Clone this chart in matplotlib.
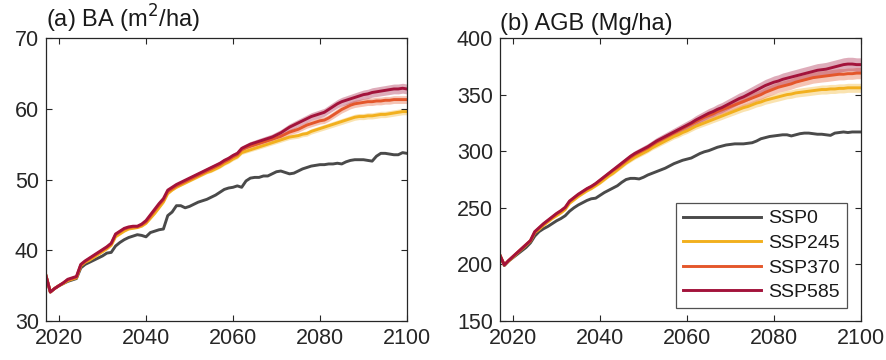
import numpy as np
import matplotlib
matplotlib.use('Agg')
import matplotlib.pyplot as plt

plt.rcParams['font.family'] = ['Liberation Sans', 'DejaVu Sans']

years = np.arange(2017, 2101)
scenarios = ['SSP0', 'SSP245', 'SSP370', 'SSP585']
colors = ['#4a4a4a', '#f2b01e', '#e4572b', '#a3133b']

# basal area (m2/ha), one value per year 2017-2100
ba_ssp0 = [36.4, 34.1, 34.6, 35.0, 35.3, 35.6, 35.8, 36.0, 37.5, 38.0,
           38.3, 38.6, 38.9, 39.2, 39.6, 39.7, 40.6, 41.1, 41.5, 41.8,
           42.0, 42.2, 42.1, 41.9, 42.5, 42.7, 42.9, 43.0, 44.9, 45.4,
           46.3, 46.3, 46.0, 46.2, 46.5, 46.8, 47.0, 47.2, 47.5, 47.8,
           48.2, 48.6, 48.8, 48.9, 49.1, 48.9, 49.8, 50.2, 50.3, 50.3,
           50.5, 50.5, 50.8, 51.1, 51.2, 51.0, 50.8, 50.9, 51.2, 51.5,
           51.7, 51.9, 52.0, 52.1, 52.1, 52.2, 52.2, 52.3, 52.2, 52.5,
           52.7, 52.8, 52.8, 52.8, 52.7, 52.6, 53.3, 53.7, 53.7, 53.6,
           53.5, 53.5, 53.8, 53.7]
ba_ssp245 = [36.4, 34.1, 34.6, 35.0, 35.3, 35.7, 35.9, 36.1, 37.8, 38.3,
             38.6, 39.0, 39.4, 39.8, 40.2, 40.7, 41.9, 42.3, 42.7, 43.0,
             43.1, 43.2, 43.4, 43.8, 44.5, 45.2, 46.0, 46.8, 48.0, 48.5,
             48.9, 49.2, 49.5, 49.8, 50.1, 50.4, 50.7, 51.0, 51.2, 51.5,
             51.8, 52.2, 52.5, 52.9, 53.2, 53.8, 54.0, 54.2, 54.4, 54.6,
             54.8, 55.0, 55.2, 55.4, 55.6, 55.8, 56.0, 56.1, 56.2, 56.4,
             56.5, 56.8, 57.0, 57.2, 57.4, 57.6, 57.8, 58.0, 58.2, 58.4,
             58.6, 58.8, 58.9, 58.9, 59.0, 59.0, 59.1, 59.2, 59.2, 59.3,
             59.4, 59.5, 59.6, 59.6]
ba_ssp370 = [36.4, 34.1, 34.6, 35.0, 35.4, 35.8, 36.0, 36.2, 37.9, 38.4,
             38.8, 39.2, 39.6, 40.0, 40.4, 40.9, 42.2, 42.6, 43.0, 43.2,
             43.3, 43.3, 43.6, 44.0, 44.8, 45.6, 46.4, 47.1, 48.3, 48.7,
             49.1, 49.4, 49.7, 50.0, 50.3, 50.6, 50.9, 51.2, 51.5, 51.8,
             52.1, 52.5, 52.8, 53.2, 53.5, 54.2, 54.5, 54.7, 54.9, 55.1,
             55.3, 55.5, 55.7, 55.9, 56.1, 56.4, 56.7, 56.9, 57.1, 57.4,
             57.7, 57.9, 58.1, 58.3, 58.4, 58.7, 59.1, 59.5, 59.9, 60.2,
             60.5, 60.7, 60.8, 60.9, 61.0, 61.0, 61.1, 61.1, 61.2, 61.2,
             61.3, 61.3, 61.3, 61.3]
ba_ssp585 = [36.4, 34.1, 34.6, 35.0, 35.4, 35.9, 36.1, 36.3, 38.0, 38.5,
             38.9, 39.3, 39.7, 40.1, 40.5, 41.0, 42.3, 42.7, 43.1, 43.3,
             43.4, 43.4, 43.7, 44.2, 45.0, 45.8, 46.6, 47.3, 48.5, 48.9,
             49.3, 49.6, 49.9, 50.2, 50.5, 50.8, 51.1, 51.4, 51.7, 52.0,
             52.3, 52.7, 53.0, 53.4, 53.7, 54.4, 54.7, 55.0, 55.2, 55.4,
             55.6, 55.8, 56.0, 56.3, 56.6, 57.0, 57.4, 57.7, 58.0, 58.3,
             58.6, 58.9, 59.1, 59.3, 59.5, 59.9, 60.3, 60.7, 61.0, 61.2,
             61.4, 61.6, 61.8, 62.0, 62.1, 62.3, 62.4, 62.5, 62.6, 62.7,
             62.8, 62.8, 62.9, 62.8]

# half width of the shaded range
ba_sd245 = [0, 0, 0.04, 0.04, 0.04, 0.04, 0.05, 0.06, 0.06, 0.06,
            0.07, 0.07, 0.08, 0.08, 0.08, 0.08, 0.09, 0.09, 0.1, 0.1,
            0.1, 0.1, 0.11, 0.11, 0.12, 0.12, 0.13, 0.13, 0.14, 0.14,
            0.15, 0.15, 0.16, 0.16, 0.17, 0.17, 0.18, 0.19, 0.2, 0.2,
            0.21, 0.22, 0.23, 0.24, 0.25, 0.25, 0.26, 0.27, 0.28, 0.29,
            0.3, 0.3, 0.31, 0.32, 0.33, 0.33, 0.34, 0.35, 0.36, 0.36,
            0.37, 0.38, 0.38, 0.39, 0.4, 0.4, 0.41, 0.41, 0.42, 0.42,
            0.43, 0.43, 0.43, 0.44, 0.44, 0.44, 0.45, 0.45, 0.45, 0.45,
            0.45, 0.45, 0.45, 0.45]
ba_sd370 = [0, 0, 0.05, 0.05, 0.05, 0.05, 0.05, 0.08, 0.08, 0.08,
            0.08, 0.08, 0.1, 0.1, 0.1, 0.1, 0.1, 0.1, 0.12, 0.12,
            0.12, 0.12, 0.13, 0.13, 0.14, 0.14, 0.15, 0.15, 0.16, 0.16,
            0.17, 0.17, 0.18, 0.19, 0.2, 0.2, 0.21, 0.22, 0.23, 0.24,
            0.25, 0.26, 0.27, 0.28, 0.29, 0.3, 0.3, 0.31, 0.32, 0.33,
            0.34, 0.35, 0.36, 0.37, 0.38, 0.39, 0.4, 0.41, 0.42, 0.43,
            0.44, 0.45, 0.46, 0.47, 0.48, 0.48, 0.49, 0.5, 0.5, 0.51,
            0.51, 0.52, 0.52, 0.53, 0.53, 0.54, 0.54, 0.55, 0.55, 0.55,
            0.55, 0.55, 0.55, 0.55]
ba_sd585 = [0, 0, 0.05, 0.05, 0.05, 0.05, 0.05, 0.1, 0.1, 0.1,
            0.1, 0.1, 0.1, 0.1, 0.12, 0.12, 0.12, 0.12, 0.14, 0.14,
            0.14, 0.15, 0.15, 0.16, 0.16, 0.17, 0.18, 0.18, 0.19, 0.2,
            0.2, 0.21, 0.22, 0.23, 0.24, 0.25, 0.26, 0.27, 0.28, 0.29,
            0.3, 0.31, 0.32, 0.33, 0.34, 0.35, 0.36, 0.37, 0.38, 0.4,
            0.41, 0.42, 0.43, 0.45, 0.46, 0.47, 0.48, 0.5, 0.51, 0.52,
            0.53, 0.54, 0.55, 0.56, 0.57, 0.58, 0.59, 0.6, 0.61, 0.62,
            0.63, 0.64, 0.65, 0.65, 0.66, 0.67, 0.67, 0.68, 0.68, 0.69,
            0.69, 0.7, 0.7, 0.7]

# aboveground biomass (Mg/ha)
agb_ssp0 = [208, 199, 203, 206, 209, 212, 215, 219, 225, 229,
            231.5, 233.5, 236, 238.5, 240.5, 243, 247, 250, 252.5, 254.5,
            256.5, 258, 258.5, 261, 263.5, 265.5, 267.5, 269.5, 272.5, 275,
            276, 276, 275.5, 277, 279, 280.5, 282, 283.5, 285, 287,
            289, 290.5, 292, 293, 294, 296, 298, 299.5, 300.5, 302,
            303.5, 304.5, 305.5, 306, 306.5, 306.5, 306.5, 307, 307.5, 309,
            311, 312, 313, 313.5, 314, 314.5, 314.5, 313.5, 314.5, 315.5,
            316, 316, 315.5, 315, 315, 314.5, 314, 316, 316.5, 317,
            316.5, 317, 317, 317]
agb_ssp245 = [208, 199.5, 203, 206.5, 210, 213.5, 217, 220.5, 228, 231,
              234.5, 237.5, 240.5, 243, 245.5, 248.5, 254, 257, 260, 262.5,
              265, 267, 269.5, 272, 275, 278, 280.5, 283.5, 286.5, 289.5,
              292, 294.5, 296.5, 298.5, 300.5, 303, 305, 307, 309, 311,
              313, 314.5, 316.5, 318, 320, 322, 323.5, 325, 326.5, 328,
              329.5, 331, 332.5, 334, 335.5, 337, 338.5, 339.5, 341, 342.5,
              343.5, 345, 346, 347, 348, 349, 350, 350.5, 351.5, 352,
              352.5, 353, 353.5, 354, 354.5, 354.5, 355, 355, 355.5, 355.5,
              356, 356, 356, 356]
agb_ssp370 = [208, 199.5, 203.5, 207, 210.5, 214, 217.5, 221, 228.5, 232,
              235.5, 238.5, 241.5, 244.5, 247, 250, 255.5, 258.5, 261.5, 264,
              266.5, 268.5, 271, 274, 277, 280, 283, 285.5, 288.5, 291.5,
              294.5, 297, 299, 301, 303, 305.5, 308, 310, 312, 314,
              316, 318, 320, 322, 324, 326, 328, 330, 331.5, 333,
              335, 336.5, 338, 339.5, 341, 342.5, 344, 345.5, 347, 348.5,
              350, 352, 353.5, 355, 356.5, 357.5, 358.5, 359.5, 361, 362,
              363, 364, 365, 365.5, 366, 366.5, 367, 367.5, 368, 368,
              368.5, 368.5, 369, 369]
agb_ssp585 = [208, 199.5, 203.5, 207, 210.5, 214, 217.5, 221, 229, 232.5,
              236, 239, 242, 245, 247.5, 250.5, 256, 259, 262, 264.5,
              267, 269, 271.5, 274.5, 277.5, 280.5, 283.5, 286.5, 289.5, 292.5,
              295.5, 298, 300, 302, 304, 306.5, 309, 311, 313, 315,
              317, 319, 321, 323, 325, 327.5, 329.5, 331.5, 333.5, 335,
              337, 338.5, 340.5, 342.5, 344.5, 346.5, 348, 350, 352, 354,
              356, 358, 359.5, 361, 362, 363.5, 364.5, 365.5, 366.5, 367.5,
              368.5, 369.5, 370.5, 371.5, 372, 372.5, 373.5, 374.5, 375.5, 376.5,
              377, 377, 376.5, 376.5]

agb_sd245 = [0, 0, 0.2, 0.2, 0.3, 0.3, 0.4, 0.5, 0.5, 0.6,
             0.6, 0.7, 0.7, 0.8, 0.8, 0.9, 0.9, 1.0, 1.0, 1.0,
             1.1, 1.1, 1.2, 1.2, 1.3, 1.3, 1.4, 1.4, 1.5, 1.5,
             1.6, 1.7, 1.7, 1.8, 1.8, 1.9, 2.0, 2.0, 2.1, 2.2,
             2.2, 2.3, 2.4, 2.4, 2.5, 2.6, 2.6, 2.7, 2.8, 2.8,
             2.9, 3.0, 3.0, 3.1, 3.2, 3.2, 3.3, 3.3, 3.4, 3.4,
             3.5, 3.5, 3.6, 3.6, 3.7, 3.7, 3.7, 3.8, 3.8, 3.8,
             3.9, 3.9, 3.9, 3.9, 4.0, 4.0, 4.0, 4.0, 4.0, 4.0,
             4.0, 4.0, 4.0, 4.0]
agb_sd370 = [0, 0, 0.3, 0.3, 0.3, 0.4, 0.5, 0.6, 0.7, 0.7,
             0.8, 0.8, 0.9, 1.0, 1.0, 1.1, 1.1, 1.2, 1.2, 1.3,
             1.3, 1.4, 1.5, 1.5, 1.6, 1.7, 1.7, 1.8, 1.8, 1.9,
             2.0, 2.1, 2.2, 2.2, 2.3, 2.4, 2.5, 2.6, 2.7, 2.7,
             2.8, 2.9, 3.0, 3.1, 3.2, 3.2, 3.3, 3.4, 3.5, 3.6,
             3.7, 3.7, 3.8, 3.9, 4.0, 4.1, 4.2, 4.2, 4.3, 4.4,
             4.4, 4.5, 4.5, 4.6, 4.6, 4.7, 4.7, 4.7, 4.8, 4.8,
             4.8, 4.9, 4.9, 4.9, 4.9, 5.0, 5.0, 5.0, 5.0, 5.0,
             5.0, 5.0, 5.0, 5.0]
agb_sd585 = [0, 0, 0.3, 0.3, 0.4, 0.5, 0.6, 0.7, 0.8, 0.9,
             1.0, 1.0, 1.1, 1.2, 1.2, 1.3, 1.4, 1.4, 1.5, 1.6,
             1.6, 1.7, 1.8, 1.8, 1.9, 2.0, 2.1, 2.1, 2.2, 2.3,
             2.4, 2.5, 2.6, 2.7, 2.8, 2.9, 3.0, 3.1, 3.2, 3.3,
             3.4, 3.5, 3.6, 3.7, 3.8, 3.9, 4.0, 4.1, 4.2, 4.3,
             4.4, 4.5, 4.6, 4.7, 4.8, 4.9, 5.0, 5.1, 5.2, 5.3,
             5.3, 5.4, 5.4, 5.5, 5.5, 5.6, 5.6, 5.7, 5.7, 5.8,
             5.8, 5.8, 5.9, 5.9, 5.9, 6.0, 6.0, 6.0, 6.0, 6.0,
             6.0, 6.0, 6.0, 6.0]

ba_ticks = [30, 40, 50, 60, 70]
agb_ticks = [150, 200, 250, 300, 350, 400]
year_ticks = [2020, 2040, 2060, 2080, 2100]

axis_col = '#262626'


def draw_panel(ax, means, spreads, title, yticks):
    # shaded ranges first, then mean lines on top
    for i in range(1, 4):
        m = np.array(means[i])
        s = np.array(spreads[i - 1])
        ax.fill_between(years, m - s, m + s, color=colors[i], alpha=0.35,
                        linewidth=0)
    for i in range(4):
        ax.plot(years, means[i], color=colors[i], lw=2.1, label=scenarios[i])
    ax.set_xlim(2017, 2100)
    ax.set_ylim(yticks[0], yticks[-1])
    ax.set_xticks(year_ticks)
    ax.set_yticks(yticks)
    ax.tick_params(direction='in', length=4, width=0.8, colors=axis_col,
                   labelsize=15.5, top=True, right=True, pad=5)
    for sp in ax.spines.values():
        sp.set_color(axis_col)
        sp.set_linewidth(0.9)
    ax.text(0.0, 1.01, title, transform=ax.transAxes, fontsize=17,
            color='#1a1a1a', ha='left', va='bottom')


fig = plt.figure(figsize=(8.86, 3.6), dpi=100)
ax1 = fig.add_axes([0.0519, 0.1083, 0.4074, 0.7861])
ax2 = fig.add_axes([0.5643, 0.1083, 0.4074, 0.7861])

draw_panel(ax1, [ba_ssp0, ba_ssp245, ba_ssp370, ba_ssp585],
           [ba_sd245, ba_sd370, ba_sd585], '(a) BA (m$^2$/ha)', ba_ticks)
draw_panel(ax2, [agb_ssp0, agb_ssp245, agb_ssp370, agb_ssp585],
           [agb_sd245, agb_sd370, agb_sd585], '(b) AGB (Mg/ha)', agb_ticks)

leg = ax2.legend(loc='lower right', bbox_to_anchor=(0.961, 0.046),
                 fontsize=14, frameon=True, fancybox=False, handlelength=4.0,
                 handletextpad=0.4, labelspacing=0.36, borderpad=0.35,
                 borderaxespad=0)
leg.get_frame().set_edgecolor(axis_col)
leg.get_frame().set_linewidth(0.9)
for t in leg.get_texts():
    t.set_color('#1a1a1a')

fig.savefig('out.png', dpi=100)
